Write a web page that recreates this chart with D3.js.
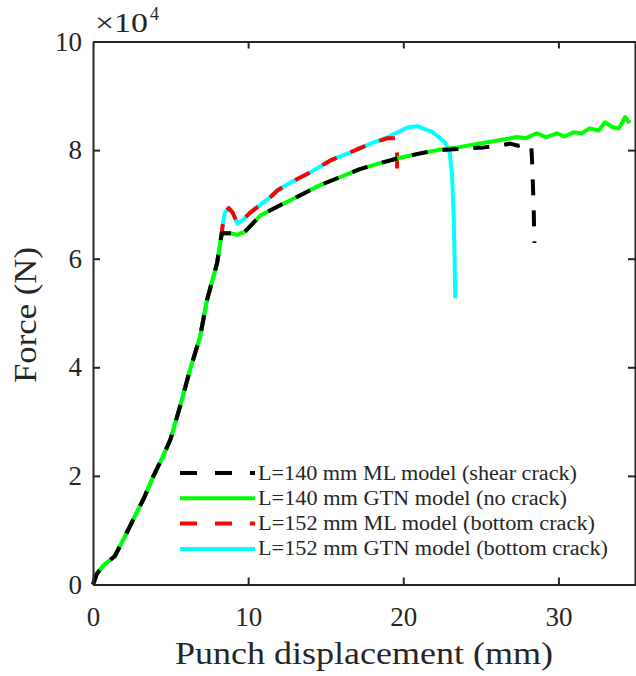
<!DOCTYPE html>
<html>
<head>
<meta charset="utf-8">
<script src="https://cdn.jsdelivr.net/npm/d3@7"></script>
<style>
  body { margin: 0; background: #fff; }
  text { font-family: "Liberation Serif", "DejaVu Serif", serif; fill: #262626; }
</style>
</head>
<body>
<svg id="chart" width="636" height="676"></svg>
<script>
// punch displacement (mm) / force (x10^4 N)
var riseX = [0, 0.25, 0.7, 1.4, 2.0, 2.6, 3.3, 3.9, 4.5, 5.0, 5.6, 6.25, 6.9, 7.35, 7.6, 8.0, 8.3]
var riseY = [0, 0.2, 0.36, 0.52, 0.85, 1.2, 1.6, 2.0, 2.35, 2.68, 3.27, 3.95, 4.56, 5.24, 5.5, 5.92, 6.47]

var gtn140X = [8.8, 9.3, 9.8, 10.3, 10.8, 11.5, 12.1, 13.3, 14.6, 15.9, 17.2, 18.5, 19.8, 21.1, 22.2, 23.5, 24.5, 25.5, 26.2, 27.3, 27.9, 28.6, 29.2, 29.9, 30.4, 31.0, 31.5, 32.0, 32.6, 33.0, 33.5, 33.9, 34.3, 34.6]
var gtn140Y = [6.47, 6.44, 6.5, 6.65, 6.8, 6.9, 6.99, 7.16, 7.35, 7.5, 7.65, 7.76, 7.86, 7.94, 8.0, 8.05, 8.1, 8.15, 8.18, 8.24, 8.22, 8.31, 8.24, 8.31, 8.25, 8.33, 8.31, 8.4, 8.36, 8.51, 8.42, 8.4, 8.61, 8.5]

var ml140X = [8.8, 9.3, 9.8, 10.3, 10.8, 11.5, 12.1, 13.3, 14.6, 15.9, 17.2, 18.5, 19.8, 21.1, 22.2, 23.0, 24.0, 25.2, 26.2, 26.9, 27.4, 28.0, 28.25, 28.3, 28.4, 28.45]
var ml140Y = [6.47, 6.44, 6.5, 6.65, 6.8, 6.9, 6.99, 7.16, 7.35, 7.5, 7.65, 7.76, 7.86, 7.94, 8.0, 8.01, 8.03, 8.05, 8.08, 8.12, 8.08, 8.12, 8.08, 7.8, 7.0, 6.29]

var gtn152X = [8.35, 8.5, 8.75, 9.0, 9.3, 9.6, 10.1, 10.9, 11.5, 11.9, 12.7, 14.0, 15.3, 16.6, 17.9, 19.0, 20.3, 20.9, 21.9, 22.7, 23.0, 23.15, 23.25, 23.3, 23.35]
var gtn152Y = [6.6, 6.85, 6.93, 6.85, 6.65, 6.7, 6.84, 7.02, 7.15, 7.26, 7.4, 7.59, 7.81, 7.96, 8.12, 8.24, 8.42, 8.44, 8.33, 8.14, 7.94, 7.5, 6.76, 6.1, 5.27]

var ml152X = [8.35, 8.5, 8.75, 9.0, 9.3, 9.6, 10.1, 10.9, 11.5, 11.9, 12.7, 14.0, 15.3, 16.6, 17.9, 19.0, 19.5, 19.6, 19.6]
var ml152Y = [6.6, 6.85, 6.93, 6.85, 6.65, 6.7, 6.84, 7.02, 7.15, 7.26, 7.4, 7.59, 7.81, 7.96, 8.12, 8.22, 8.22, 7.9, 7.59]

var legendNames = ["L=140 mm ML model (shear crack)", "L=140 mm GTN model (no crack)", "L=152 mm ML model (bottom crack)", "L=152 mm GTN model (bottom crack)"]
var xTicks = [0, 10, 20, 30]
var yTicks = [0, 2, 4, 6, 8, 10]

function toPoints(xs, ys) {
    var pts = []
    for (var i = 0; i < xs.length; i++) pts.push([xs[i], ys[i]])
    return pts
}

var rise = toPoints(riseX, riseY)
var series = [
    // drawn bottom to top
    { name: legendNames[3], color: "#00ffff", dash: null, pts: rise.concat(toPoints(gtn152X, gtn152Y)) },
    { name: legendNames[2], color: "#ff0000", dash: "16,15", pts: rise.concat(toPoints(ml152X, ml152Y)) },
    { name: legendNames[1], color: "#00ff00", dash: null, pts: rise.concat(toPoints(gtn140X, gtn140Y)) },
    { name: legendNames[0], color: "#000000", dash: "16,15", pts: rise.concat(toPoints(ml140X, ml140Y)) }
]

var svg = d3.select("#chart")
var plotLeft = 93, plotRight = 636, plotTop = 41.5, plotBottom = 584.5

var xScale = d3.scaleLinear().domain([0, 35]).range([plotLeft, plotRight])
var yScale = d3.scaleLinear().domain([0, 10]).range([plotBottom, plotTop])

var line = d3.line().x(d => xScale(d[0])).y(d => yScale(d[1]))

svg.append("g").selectAll("path")
    .data(series)
    .enter()
    .append("path")
    .attr("d", d => line(d.pts))
    .attr("fill", "none")
    .attr("stroke", d => d.color)
    .attr("stroke-width", 4)
    .attr("stroke-dasharray", d => d.dash)
    .attr("stroke-linejoin", "round")

// axes box with inward ticks
var axisColor = "#262626"
var bottomAxis = d3.axisBottom(xScale).tickValues(xTicks).tickSizeInner(-7).tickSizeOuter(0).tickPadding(22)
var leftAxis = d3.axisLeft(yScale).tickValues(yTicks).tickSizeInner(-7).tickSizeOuter(0).tickPadding(11)

var gx = svg.append("g").attr("transform", "translate(0," + plotBottom + ")").call(bottomAxis)
var gy = svg.append("g").attr("transform", "translate(" + plotLeft + ",0)").call(leftAxis)
svg.append("g").attr("transform", "translate(0," + plotTop + ")")
    .call(d3.axisTop(xScale).tickValues(xTicks.slice(1)).tickSizeInner(-7).tickSizeOuter(0).tickFormat(""))
svg.append("g").attr("transform", "translate(" + (plotRight - 1) + ",0)")
    .call(d3.axisRight(yScale).tickValues(yTicks.slice(1, -1)).tickSizeInner(-7).tickSizeOuter(0).tickFormat(""))

svg.selectAll(".domain").attr("stroke", axisColor).attr("stroke-width", 2)
svg.selectAll(".tick line").attr("stroke", axisColor).attr("stroke-width", 2)
gx.selectAll("text").attr("font-size", 27).attr("font-family", "Liberation Serif").attr("fill", axisColor).attr("dy", "0.71em")
gy.selectAll("text").attr("font-size", 27).attr("font-family", "Liberation Serif").attr("fill", axisColor)

// exponent
svg.append("text").attr("x", 95).attr("y", 32).attr("font-size", 27)
    .attr("textLength", 53).attr("lengthAdjust", "spacingAndGlyphs").text("×10")
svg.append("text").attr("x", 150).attr("y", 20).attr("font-size", 18).text("4")

// axis labels
svg.append("text")
    .attr("x", 364).attr("y", 664)
    .attr("text-anchor", "middle")
    .attr("font-size", 31)
    .attr("textLength", 378)
    .attr("lengthAdjust", "spacingAndGlyphs")
    .text("Punch displacement (mm)")

svg.append("text")
    .attr("transform", "translate(36,315) rotate(-90)")
    .attr("text-anchor", "middle")
    .attr("font-size", 31)
    .attr("textLength", 136)
    .attr("lengthAdjust", "spacingAndGlyphs")
    .text("Force (N)")

// legend
var legendOrder = [series[3], series[2], series[1], series[0]]
var legendWidths = [319, 309, 337, 350]
var legend = svg.append("g")
legendOrder.forEach(function (s, i) {
    var y = 473 + i * 25.3
    legend.append("line")
        .attr("x1", 180).attr("x2", 255).attr("y1", y).attr("y2", y)
        .attr("stroke", s.color).attr("stroke-width", 4)
        .attr("stroke-dasharray", s.dash ? "17,18" : null)
    legend.append("text")
        .attr("x", 258).attr("y", y + 6.5)
        .attr("font-size", 20)
        .attr("textLength", legendWidths[i])
        .attr("lengthAdjust", "spacingAndGlyphs")
        .text(s.name)
})
</script>
</body>
</html>
